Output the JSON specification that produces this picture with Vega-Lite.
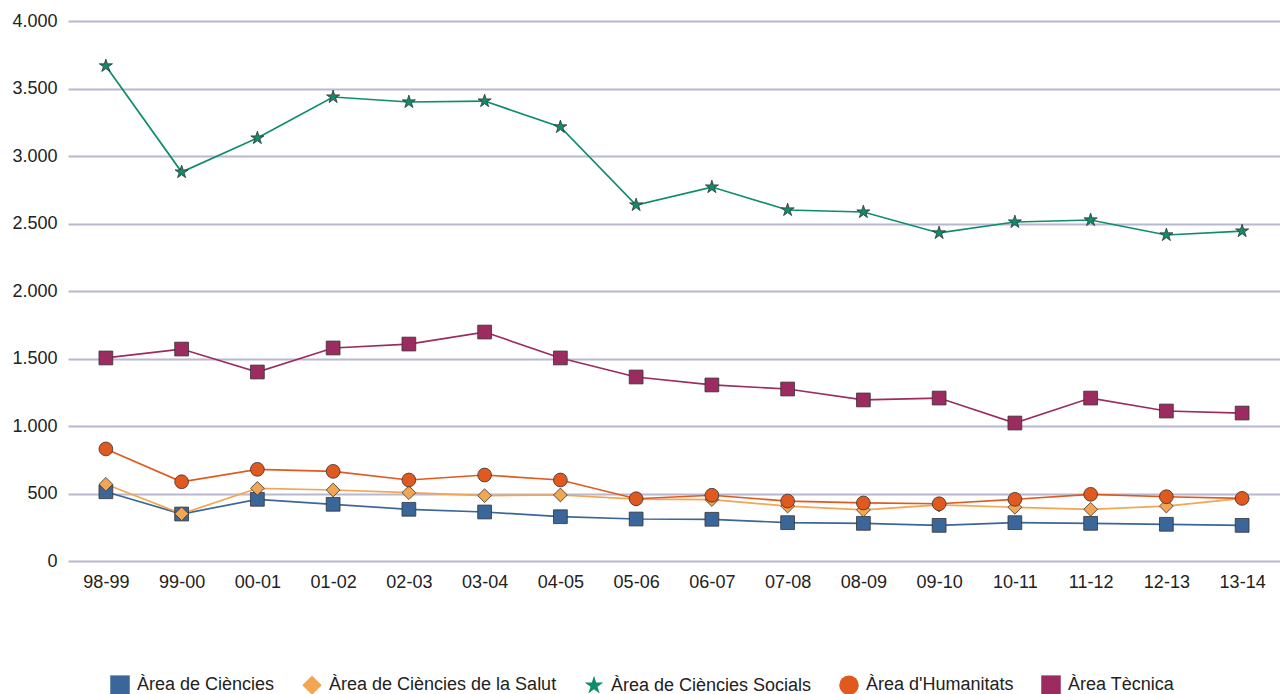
{
  "$schema": "https://vega.github.io/schema/vega-lite/v6.json",
  "width": 1212,
  "height": 540,
  "autosize": "none",
  "padding": {"left": 68, "top": 21, "right": 0, "bottom": 133},
  "background": "white",
  "config": {
    "locale": {"number": {"decimal": ",", "thousands": ".", "grouping": [3], "currency": ["", " €"]}},
    "font": "Liberation Sans",
    "view": {"stroke": null}
  },
  "data": {
    "values": [
      {"curs": "98-99", "area": "Àrea de Ciències", "valor": 513},
      {"curs": "99-00", "area": "Àrea de Ciències", "valor": 348},
      {"curs": "00-01", "area": "Àrea de Ciències", "valor": 457},
      {"curs": "01-02", "area": "Àrea de Ciències", "valor": 420},
      {"curs": "02-03", "area": "Àrea de Ciències", "valor": 383},
      {"curs": "03-04", "area": "Àrea de Ciències", "valor": 363},
      {"curs": "04-05", "area": "Àrea de Ciències", "valor": 328},
      {"curs": "05-06", "area": "Àrea de Ciències", "valor": 311},
      {"curs": "06-07", "area": "Àrea de Ciències", "valor": 309},
      {"curs": "07-08", "area": "Àrea de Ciències", "valor": 284},
      {"curs": "08-09", "area": "Àrea de Ciències", "valor": 279},
      {"curs": "09-10", "area": "Àrea de Ciències", "valor": 264},
      {"curs": "10-11", "area": "Àrea de Ciències", "valor": 284},
      {"curs": "11-12", "area": "Àrea de Ciències", "valor": 279},
      {"curs": "12-13", "area": "Àrea de Ciències", "valor": 272},
      {"curs": "13-14", "area": "Àrea de Ciències", "valor": 264},

      {"curs": "98-99", "area": "Àrea de Ciències de la Salut", "valor": 568},
      {"curs": "99-00", "area": "Àrea de Ciències de la Salut", "valor": 350},
      {"curs": "00-01", "area": "Àrea de Ciències de la Salut", "valor": 538},
      {"curs": "01-02", "area": "Àrea de Ciències de la Salut", "valor": 526},
      {"curs": "02-03", "area": "Àrea de Ciències de la Salut", "valor": 506},
      {"curs": "03-04", "area": "Àrea de Ciències de la Salut", "valor": 484},
      {"curs": "04-05", "area": "Àrea de Ciències de la Salut", "valor": 489},
      {"curs": "05-06", "area": "Àrea de Ciències de la Salut", "valor": 459},
      {"curs": "06-07", "area": "Àrea de Ciències de la Salut", "valor": 455},
      {"curs": "07-08", "area": "Àrea de Ciències de la Salut", "valor": 407},
      {"curs": "08-09", "area": "Àrea de Ciències de la Salut", "valor": 378},
      {"curs": "09-10", "area": "Àrea de Ciències de la Salut", "valor": 415},
      {"curs": "10-11", "area": "Àrea de Ciències de la Salut", "valor": 398},
      {"curs": "11-12", "area": "Àrea de Ciències de la Salut", "valor": 383},
      {"curs": "12-13", "area": "Àrea de Ciències de la Salut", "valor": 407},
      {"curs": "13-14", "area": "Àrea de Ciències de la Salut", "valor": 464},

      {"curs": "98-99", "area": "Àrea de Ciències Socials", "valor": 3667},
      {"curs": "99-00", "area": "Àrea de Ciències Socials", "valor": 2881},
      {"curs": "00-01", "area": "Àrea de Ciències Socials", "valor": 3133},
      {"curs": "01-02", "area": "Àrea de Ciències Socials", "valor": 3437},
      {"curs": "02-03", "area": "Àrea de Ciències Socials", "valor": 3400},
      {"curs": "03-04", "area": "Àrea de Ciències Socials", "valor": 3407},
      {"curs": "04-05", "area": "Àrea de Ciències Socials", "valor": 3215},
      {"curs": "05-06", "area": "Àrea de Ciències Socials", "valor": 2637},
      {"curs": "06-07", "area": "Àrea de Ciències Socials", "valor": 2770},
      {"curs": "07-08", "area": "Àrea de Ciències Socials", "valor": 2600},
      {"curs": "08-09", "area": "Àrea de Ciències Socials", "valor": 2585},
      {"curs": "09-10", "area": "Àrea de Ciències Socials", "valor": 2430},
      {"curs": "10-11", "area": "Àrea de Ciències Socials", "valor": 2511},
      {"curs": "11-12", "area": "Àrea de Ciències Socials", "valor": 2526},
      {"curs": "12-13", "area": "Àrea de Ciències Socials", "valor": 2415},
      {"curs": "13-14", "area": "Àrea de Ciències Socials", "valor": 2444},

      {"curs": "98-99", "area": "Àrea d'Humanitats", "valor": 830},
      {"curs": "99-00", "area": "Àrea d'Humanitats", "valor": 587},
      {"curs": "00-01", "area": "Àrea d'Humanitats", "valor": 679},
      {"curs": "01-02", "area": "Àrea d'Humanitats", "valor": 664},
      {"curs": "02-03", "area": "Àrea d'Humanitats", "valor": 600},
      {"curs": "03-04", "area": "Àrea d'Humanitats", "valor": 637},
      {"curs": "04-05", "area": "Àrea d'Humanitats", "valor": 600},
      {"curs": "05-06", "area": "Àrea d'Humanitats", "valor": 461},
      {"curs": "06-07", "area": "Àrea d'Humanitats", "valor": 487},
      {"curs": "07-08", "area": "Àrea d'Humanitats", "valor": 444},
      {"curs": "08-09", "area": "Àrea d'Humanitats", "valor": 430},
      {"curs": "09-10", "area": "Àrea d'Humanitats", "valor": 424},
      {"curs": "10-11", "area": "Àrea d'Humanitats", "valor": 457},
      {"curs": "11-12", "area": "Àrea d'Humanitats", "valor": 494},
      {"curs": "12-13", "area": "Àrea d'Humanitats", "valor": 476},
      {"curs": "13-14", "area": "Àrea d'Humanitats", "valor": 464},

      {"curs": "98-99", "area": "Àrea Tècnica", "valor": 1504},
      {"curs": "99-00", "area": "Àrea Tècnica", "valor": 1570},
      {"curs": "00-01", "area": "Àrea Tècnica", "valor": 1400},
      {"curs": "01-02", "area": "Àrea Tècnica", "valor": 1578},
      {"curs": "02-03", "area": "Àrea Tècnica", "valor": 1607},
      {"curs": "03-04", "area": "Àrea Tècnica", "valor": 1696},
      {"curs": "04-05", "area": "Àrea Tècnica", "valor": 1504},
      {"curs": "05-06", "area": "Àrea Tècnica", "valor": 1363},
      {"curs": "06-07", "area": "Àrea Tècnica", "valor": 1304},
      {"curs": "07-08", "area": "Àrea Tècnica", "valor": 1274},
      {"curs": "08-09", "area": "Àrea Tècnica", "valor": 1193},
      {"curs": "09-10", "area": "Àrea Tècnica", "valor": 1207},
      {"curs": "10-11", "area": "Àrea Tècnica", "valor": 1022},
      {"curs": "11-12", "area": "Àrea Tècnica", "valor": 1207},
      {"curs": "12-13", "area": "Àrea Tècnica", "valor": 1111},
      {"curs": "13-14", "area": "Àrea Tècnica", "valor": 1096}
    ]
  },
  "encoding": {
    "x": {
      "field": "curs", "type": "ordinal", "sort": null,
      "scale": {"type": "point", "padding": 0.5},
      "axis": {"title": null, "domain": false, "ticks": false, "grid": false, "labelAngle": 0, "labelFontSize": 18, "labelColor": "#222", "labelPadding": 12, "labelFont": "Liberation Sans"}
    },
    "y": {
      "field": "valor", "type": "quantitative",
      "scale": {"domain": [0, 4000], "nice": false},
      "axis": {"title": null, "values": [0, 500, 1000, 1500, 2000, 2500, 3000, 3500, 4000], "format": ",d", "domain": false, "ticks": false, "grid": true, "gridColor": "#b8b8d0", "gridWidth": 2, "labelFontSize": 18, "labelColor": "#222", "labelPadding": 11, "labelFont": "Liberation Sans"}
    },
    "color": {
      "field": "area", "type": "nominal",
      "scale": {
        "domain": ["Àrea de Ciències", "Àrea de Ciències de la Salut", "Àrea de Ciències Socials", "Àrea d'Humanitats", "Àrea Tècnica"],
        "range": ["#3a6699", "#f2a552", "#0f8c6c", "#e0591f", "#9c2b5f"]
      },
      "legend": {
        "title": null, "orient": "none", "legendX": 42, "legendY": 654, "direction": "horizontal",
        "labelFontSize": 18, "labelColor": "#222", "labelFont": "Liberation Sans", "labelLimit": 0,
        "symbolSize": 380, "symbolStrokeWidth": 0, "columnPadding": 27, "labelOffset": 7
      }
    }
  },
  "layer": [
    {
      "mark": {"type": "line", "strokeWidth": 1.7}
    },
    {
      "mark": {"type": "point", "filled": true, "opacity": 1, "size": 190, "stroke": "#333", "strokeWidth": 0.8},
      "encoding": {
        "shape": {
          "field": "area", "type": "nominal",
          "scale": {
            "domain": ["Àrea de Ciències", "Àrea de Ciències de la Salut", "Àrea de Ciències Socials", "Àrea d'Humanitats", "Àrea Tècnica"],
            "range": ["square", "diamond", "M0,-1L0.223,-0.307L0.951,-0.309L0.361,0.117L0.588,0.809L0,0.38L-0.588,0.809L-0.361,0.117L-0.951,-0.309L-0.223,-0.307Z", "circle", "square"]
          }
        }
      }
    }
  ]
}
